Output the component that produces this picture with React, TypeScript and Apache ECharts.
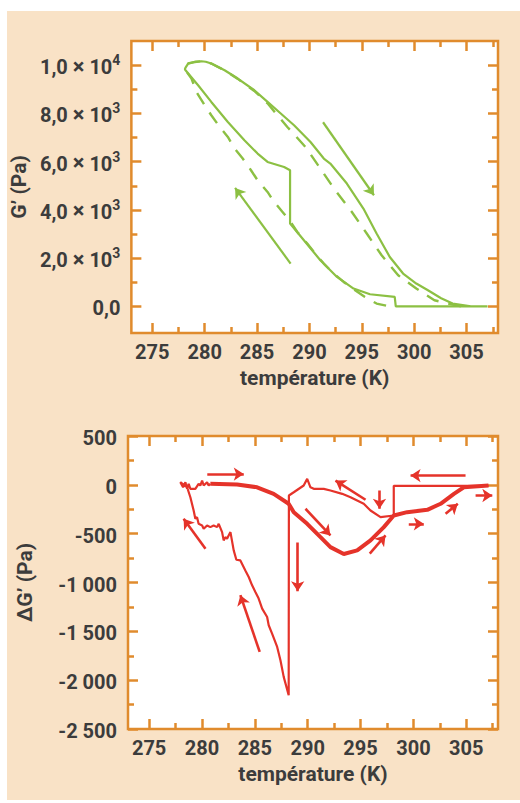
import React, { useEffect, useRef } from 'react';
import * as echarts from 'echarts';

// ---- tick values & labels ----
const temperatureTicks = [275, 280, 285, 290, 295, 300, 305];
const temperatureMinorTicks = [277.5, 282.5, 287.5, 292.5, 297.5, 302.5, 307.5];
const gTicks = [0, 2000, 4000, 6000, 8000, 10000];
const gTickMantissa = ['0,0', '2,0', '4,0', '6,0', '8,0', '1,0'];
const gTickExponent = ['', '3', '3', '3', '3', '4'];
const gMinorTicks = [1000, 3000, 5000, 7000, 9000];
const dgTicks = [-2500, -2000, -1500, -1000, -500, 0, 500];
const dgTickLabels = ['-2 500', '-2 000', '-1 500', '-1 000', '-500', '0', '500'];
const dgMinorTicks = [-2250, -1750, -1250, -750, -250, 250];

// ---- G' (Pa) : measured loop (solid), cooling then heating ----
const gSolid: number[][] = [
  [307.0, 0], [298.24, 0], [298.14, 394], [295.78, 506], [294.21, 742], [292.63, 1222],
  [291.04, 1915], [289.47, 2743], [288.15, 3435], [288.15, 5644], [287.58, 5781],
  [286.0, 5988], [285.05, 6336], [283.79, 6887], [282.21, 7646], [280.63, 8475],
  [279.37, 9167], [278.17, 9788], [278.11, 9822], [278.17, 9900], [278.42, 10066],
  [279.06, 10132], [279.68, 10161], [280.1, 10140], [280.63, 10066], [281.9, 9788],
  [283.16, 9444], [284.74, 8959], [286.0, 8475], [287.26, 7994], [288.53, 7509],
  [290.1, 6817], [291.37, 6129], [291.99, 5922], [293.57, 5093], [295.15, 4057],
  [296.41, 3021], [297.67, 2051], [298.94, 1363], [300.2, 949], [301.31, 671],
  [302.57, 340], [303.67, 120], [305.41, 0], [307.0, 0],
];

// ---- G' (Pa) : second loop (dashed) ----
const gDashed: number[][] = [
  [304.46, 0], [301.93, 257], [300.2, 742], [298.47, 1293], [297.67, 1707], [296.89, 2122],
  [295.47, 3021], [294.05, 3916], [292.46, 4815], [291.04, 5715], [289.62, 6610],
  [287.89, 7439], [286.94, 7923], [286.0, 8420], [284.74, 8930], [283.16, 9430],
  [281.9, 9780], [280.63, 10066], [279.68, 10161], [279.06, 10132], [278.42, 10066],
  [278.17, 9900], [278.11, 9822], [278.74, 9444], [279.21, 8889], [280.0, 8338],
  [280.63, 7923], [281.43, 7439], [282.21, 7024], [282.85, 6543], [283.63, 6129],
  [284.42, 5644], [285.05, 5230], [286.0, 4745], [286.63, 4331], [287.43, 3916],
  [288.2, 3502], [288.84, 3087], [289.79, 2607], [290.42, 2258], [291.37, 1778],
  [292.15, 1430], [293.26, 1015], [294.36, 671], [295.3, 394], [296.41, 120], [297.67, 0],
];

// ---- G' arrows [tail, head] ----
const gArrows: number[][][] = [
  [[288.2, 1778], [282.9, 4911]],
  [[291.3, 7633], [296.16, 4608]],
];

// ---- ΔG' (Pa) : cooling (thin) ----
const dgCooling: number[][] = [
  [307.1, -10], [298.14, -10], [298.14, -314], [296.89, -331], [295.94, -263], [295.3, -194],
  [294.05, -127], [293.26, -92], [292.15, -58], [291.52, -41], [290.57, -41], [290.26, -25],
  [289.95, 61], [289.62, -7], [288.68, -76], [288.22, -109], [288.2, -2155], [287.73, -1966],
  [287.42, -1796], [287.11, -1660], [286.63, -1523], [286.31, -1438], [286.16, -1353],
  [285.69, -1267], [285.36, -1165], [285.05, -1098], [284.74, -1029], [284.42, -944],
  [284.1, -876], [283.63, -774], [283.25, -767], [283.0, -671], [282.69, -484],
  [282.52, -518], [282.37, -552], [282.21, -536], [282.05, -569], [281.9, -484],
  [281.58, -399], [281.43, -433], [281.1, -416], [280.79, -433], [280.48, -416],
  [280.16, -450], [280.01, -416], [279.68, -399], [279.53, -331], [279.37, -347],
  [279.21, -263], [278.9, -127], [278.59, -25], [277.95, 27], [278.21, -25], [278.43, 27],
  [278.59, -41], [278.74, 10], [278.9, -41], [279.37, -41], [279.68, 10], [279.84, -7],
  [280.01, 44], [280.16, -7], [280.48, 27], [280.63, -7], [280.79, 10],
];

// ---- ΔG' (Pa) : heating (thick) ----
const dgHeating: number[][] = [
  [280.79, 10], [283.32, 3], [285.21, -25], [286.78, -92], [288.2, -194], [288.68, -280],
  [289.95, -399], [291.21, -536], [292.15, -638], [293.41, -708], [294.68, -671],
  [295.94, -569], [297.2, -433], [298.14, -314], [299.41, -280], [301.31, -256],
  [302.57, -194], [303.83, -92], [304.77, -25], [307.1, -7],
];

// ---- ΔG' arrows [tail, head] ----
const dgArrows: number[][][] = [
  [[280.5, 110], [283.95, 110]],
  [[280.33, -654], [278.26, -347]],
  [[285.46, -1711], [283.63, -1130]],
  [[289.05, -590], [289.05, -1090]],
  [[289.79, -245], [292.15, -518]],
  [[295.47, -153], [292.63, 44]],
  [[296.79, -58], [296.79, -245]],
  [[295.87, -705], [297.36, -518]],
  [[304.93, 95], [299.73, 95]],
  [[299.56, -399], [300.98, -399]],
  [[303.04, -296], [304.2, -194]],
  [[305.88, -109], [307.46, -109]],
];

const ORANGE = '#e08b2d';
const PEACH = '#f9e2c6';
const GREEN = '#8cc043';
const RED = '#e5332a';
const TEXT = '#3c3c3c';
const FONT = 'Roboto, "Open Sans", sans-serif';

const labelStyle = { color: TEXT, fontSize: 20, fontWeight: 'bold' as const, fontFamily: FONT };
const nameStyle = { color: TEXT, fontSize: 21, fontWeight: 'bold' as const, fontFamily: FONT };

function tickAxis(
  gridIndex: number,
  position: string,
  min: number,
  max: number,
  values: number[],
  length: number,
) {
  return {
    type: 'value',
    gridIndex,
    position,
    min,
    max,
    axisLine: { show: false, onZero: false },
    splitLine: { show: false },
    axisLabel: { show: false },
    axisTick: {
      show: true,
      inside: true,
      length,
      customValues: values,
      lineStyle: { color: ORANGE, width: 2.5 },
    },
  };
}

function makeXAxes(gridIndex: number) {
  const main = {
    ...tickAxis(gridIndex, 'bottom', 273, 308, temperatureTicks, 10),
    axisLabel: {
      show: true,
      customValues: temperatureTicks,
      margin: 9,
      formatter: (v: number) => String(v),
      ...labelStyle,
    },
    name: 'température (K)',
    nameLocation: 'middle',
    nameGap: 34,
    nameTextStyle: nameStyle,
  };
  return [
    main,
    tickAxis(gridIndex, 'bottom', 273, 308, temperatureMinorTicks, 6),
    tickAxis(gridIndex, 'top', 273, 308, temperatureTicks, 10),
    tickAxis(gridIndex, 'top', 273, 308, temperatureMinorTicks, 6),
  ];
}

function makeYAxes(
  gridIndex: number,
  min: number,
  max: number,
  ticks: number[],
  formatter: (v: number) => string,
  minor: number[],
  name: string,
) {
  const main = {
    ...tickAxis(gridIndex, 'left', min, max, ticks, 10),
    axisLabel: {
      show: true,
      customValues: ticks,
      margin: 11,
      formatter,
      ...labelStyle,
      rich: {
        m: { ...labelStyle, lineHeight: 24, verticalAlign: 'bottom' },
        x: { ...labelStyle, fontSize: 22, lineHeight: 24, verticalAlign: 'bottom' },
        s: { ...labelStyle, fontSize: 14, lineHeight: 14, verticalAlign: 'top' },
      },
    },
    name,
    nameLocation: 'middle',
    nameGap: 93,
    nameTextStyle: nameStyle,
  };
  return [
    main,
    tickAxis(gridIndex, 'left', min, max, minor, 6),
    tickAxis(gridIndex, 'right', min, max, ticks, 10),
    tickAxis(gridIndex, 'right', min, max, minor, 6),
  ];
}

const gFormatter = (v: number) => {
  const i = gTicks.indexOf(v);
  if (i < 0) return '';
  if (!gTickExponent[i]) return '{m|' + gTickMantissa[i] + '}';
  return '{m|' + gTickMantissa[i] + ' }{x|×}{m| 10}{s|' + gTickExponent[i] + '}';
};

const dgFormatter = (v: number) => {
  const i = dgTicks.indexOf(v);
  return i >= 0 ? '{m|' + dgTickLabels[i] + '}' : '';
};

export default function App() {
  const ref = useRef<HTMLDivElement>(null);

  useEffect(() => {
    if (!ref.current) return;
    const chart = echarts.init(ref.current, null, { renderer: 'svg' });
    const option = {
      animation: false,
      backgroundColor: PEACH,
      graphic: [
        { type: 'rect', shape: { x: 0, y: 0, width: 520, height: 11 }, style: { fill: '#ffffff' }, silent: true },
        { type: 'rect', shape: { x: 0, y: 0, width: 7, height: 803 }, style: { fill: '#ffffff' }, silent: true },
        { type: 'rect', shape: { x: 0, y: 800, width: 520, height: 3 }, style: { fill: '#ffffff' }, silent: true },
      ],
      grid: [
        { left: 128, top: 41, width: 370, height: 292, show: true, backgroundColor: '#ffffff', borderColor: ORANGE, borderWidth: 2.5 },
        { left: 128, top: 436, width: 370, height: 293, show: true, backgroundColor: '#ffffff', borderColor: ORANGE, borderWidth: 2.5 },
      ],
      xAxis: [...makeXAxes(0), ...makeXAxes(1)],
      yAxis: [
        ...makeYAxes(0, -1100, 11000, gTicks, gFormatter, gMinorTicks, 'G’ (Pa)'),
        ...makeYAxes(1, -2500, 500, dgTicks, dgFormatter, dgMinorTicks, 'ΔG’ (Pa)'),
      ],
      series: [
        {
          type: 'line', xAxisIndex: 0, yAxisIndex: 0, data: gDashed, symbol: 'none', showSymbol: false,
          lineStyle: { color: GREEN, width: 2.4, type: [13, 10] }, z: 3,
        },
        {
          type: 'line', xAxisIndex: 0, yAxisIndex: 0, data: gSolid, symbol: 'none', showSymbol: false,
          lineStyle: { color: GREEN, width: 2.2 }, z: 4,
        },
        {
          type: 'lines', coordinateSystem: 'cartesian2d', xAxisIndex: 0, yAxisIndex: 0,
          symbol: ['none', 'arrow'], symbolSize: 10,
          lineStyle: { color: GREEN, width: 2.2, opacity: 1, curveness: 0 },
          data: gArrows.map((c) => ({ coords: c })), z: 5,
        },
        {
          type: 'line', xAxisIndex: 4, yAxisIndex: 4, data: dgCooling, symbol: 'none', showSymbol: false,
          lineStyle: { color: RED, width: 2.2 }, z: 3,
        },
        {
          type: 'line', xAxisIndex: 4, yAxisIndex: 4, data: dgHeating, symbol: 'none', showSymbol: false,
          lineStyle: { color: RED, width: 4 }, z: 4,
        },
        {
          type: 'lines', coordinateSystem: 'cartesian2d', xAxisIndex: 4, yAxisIndex: 4,
          symbol: ['none', 'arrow'], symbolSize: 10,
          lineStyle: { color: RED, width: 2.6, opacity: 1, curveness: 0 },
          data: dgArrows.map((c) => ({ coords: c })), z: 5,
        },
      ],
    };
    chart.setOption(option as any);
    return () => chart.dispose();
  }, []);

  return (
    <div
      ref={ref}
      style={{ position: 'absolute', left: 0, top: 0, width: 520, height: 803 }}
    />
  );
}
